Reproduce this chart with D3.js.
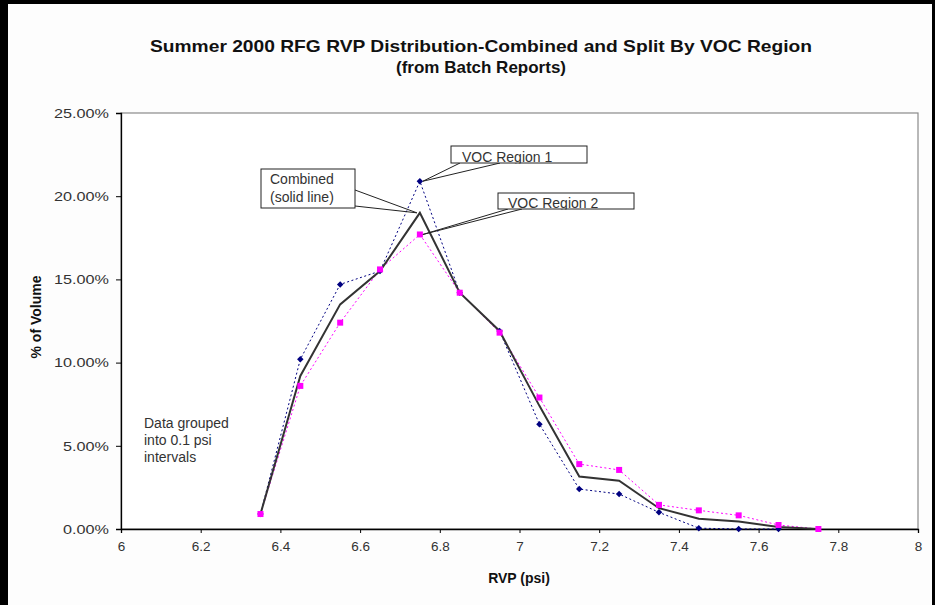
<!DOCTYPE html>
<html><head><meta charset="utf-8">
<script src="https://cdn.jsdelivr.net/npm/d3@7"></script>
<style>
html,body{margin:0;padding:0;background:#fdfdfd;}
text{font-family:"Liberation Sans",Arial,sans-serif;}
</style></head>
<body>
<svg id="c" width="935" height="605"></svg>
<script>
const rvp = [6.35,6.45,6.55,6.65,6.75,6.85,6.95,7.05,7.15,7.25,7.35,7.45,7.55,7.65,7.75];
const region1 = [0.009,0.102,0.147,0.155,0.209,0.142,0.119,0.063,0.024,0.021,0.010,0.0005,0.0,0.0,null];
const region2 = [0.009,0.086,0.124,0.156,0.177,0.142,0.118,0.079,0.039,0.0355,0.0145,0.0112,0.0082,0.0024,0.0];
const combined = [0.009,0.092,0.135,0.155,0.190,0.142,0.119,0.074,0.0315,0.029,0.0125,0.0062,0.0045,0.0012,0.0];
const xTicks = [6,6.2,6.4,6.6,6.8,7,7.2,7.4,7.6,7.8,8];
const yTicks = [0,0.05,0.10,0.15,0.20,0.25];
const titleLines = ["Summer 2000 RFG RVP Distribution-Combined and Split By VOC Region","(from Batch Reports)"];

const svg = d3.select("#c");
const W=935,H=605;
svg.append("rect").attr("x",0).attr("y",0).attr("width",W).attr("height",H).attr("fill","#fdfdfd");
// outer border
svg.append("rect").attr("x",0).attr("y",0).attr("width",8).attr("height",H).attr("fill","#000");
svg.append("rect").attr("x",0).attr("y",0).attr("width",W).attr("height",4).attr("fill","#000");
svg.append("rect").attr("x",932).attr("y",0).attr("width",3).attr("height",H).attr("fill","#000");

const L=121,R=918,T=113,B=529;
const x = d3.scaleLinear().domain([6,8]).range([L,R]);
const y = d3.scaleLinear().domain([0,0.25]).range([B,T]);

svg.append("rect").attr("x",L).attr("y",T).attr("width",R-L).attr("height",B-T)
  .attr("fill","#ffffff").attr("stroke","#8a8a8a").attr("stroke-width",1.2);

// title
const titleW = [662,170];
titleLines.forEach((t,i)=>{
  svg.append("text").attr("x",481).attr("y",52+i*21).attr("text-anchor","middle")
    .attr("font-size",16.5).attr("font-weight","bold").attr("fill","#111")
    .attr("textLength",titleW[i]).attr("lengthAdjust","spacingAndGlyphs").text(t);
});

// axes
const xAxis = d3.axisBottom(x).tickValues(xTicks).tickSize(4).tickFormat(d3.format("~g"));
const gx = svg.append("g").attr("transform",`translate(0,${B})`).call(xAxis);
gx.select(".domain").attr("stroke","#000").attr("stroke-width",1.3);
gx.selectAll(".tick line").attr("stroke","#000");
gx.selectAll(".tick text").attr("font-size",13.5).attr("fill","#333").attr("dy","1.1em")
  .style("font-family","'Liberation Sans',Arial,sans-serif");

const yAxis = d3.axisLeft(y).tickValues(yTicks).tickSize(5).tickFormat(d3.format(".2%"));
const gy = svg.append("g").attr("transform",`translate(${L},0)`).call(yAxis);
gy.select(".domain").attr("stroke","#000").attr("stroke-width",1.3);
gy.selectAll(".tick line").attr("stroke","#000");
gy.selectAll(".tick text").attr("font-size",13.5).attr("fill","#333").attr("x",-12)
  .style("font-family","'Liberation Sans',Arial,sans-serif")
  .each(function(){const l=this.getComputedTextLength(); d3.select(this).attr("textLength",l*1.2).attr("lengthAdjust","spacingAndGlyphs");});

svg.append("text").attr("x",519).attr("y",583).attr("text-anchor","middle")
  .attr("font-size",14).attr("font-weight","bold").attr("fill","#111").text("RVP (psi)");
svg.append("text").attr("transform","translate(41,317) rotate(-90)").attr("text-anchor","middle")
  .attr("font-size",14).attr("font-weight","bold").attr("fill","#111").text("% of Volume");

// series
const mk = (arr)=>rvp.map((v,i)=>({x:v,y:arr[i]})).filter(d=>d.y!==null);
const line = d3.line().x(d=>x(d.x)).y(d=>y(d.y));
const s1 = mk(region1), s2 = mk(region2), s3 = mk(combined);

svg.append("path").datum(s1).attr("d",line).attr("fill","none").attr("stroke","#000080")
  .attr("stroke-width",1).attr("stroke-dasharray","2,2.5");
svg.append("path").datum(s2).attr("d",line).attr("fill","none").attr("stroke","#ff00ff")
  .attr("stroke-width",1).attr("stroke-dasharray","2,2.5");
svg.append("path").datum(s3).attr("d",line).attr("fill","none").attr("stroke","#333")
  .attr("stroke-width",2);

svg.selectAll(".d1").data(s1).join("rect").attr("class","d1")
  .attr("x",-2.3).attr("y",-2.3).attr("width",4.6).attr("height",4.6)
  .attr("transform",d=>`translate(${x(d.x)},${y(d.y)}) rotate(45)`)
  .attr("fill","#000080");
svg.selectAll(".d2").data(s2).join("rect").attr("class","d2")
  .attr("x",d=>x(d.x)-3).attr("y",d=>y(d.y)-3).attr("width",6).attr("height",6)
  .attr("fill","#ff00ff");

// annotations
function callout(bx,by,bw,bh,lines,tx,ty,p1,p2,target){
  const g = svg.append("g");
  g.append("line").attr("x1",p1[0]).attr("y1",p1[1]).attr("x2",target[0]).attr("y2",target[1]).attr("stroke","#222").attr("stroke-width",1);
  g.append("line").attr("x1",p2[0]).attr("y1",p2[1]).attr("x2",target[0]).attr("y2",target[1]).attr("stroke","#222").attr("stroke-width",1);
  g.append("rect").attr("x",bx).attr("y",by).attr("width",bw).attr("height",bh).attr("fill","#fff").attr("stroke","#222").attr("stroke-width",1);
  const id = "clip"+Math.round(bx);
  g.append("clipPath").attr("id",id).append("rect").attr("x",bx).attr("y",by).attr("width",bw).attr("height",bh+0.5);
  const tg = g.append("g").attr("clip-path",`url(#${id})`);
  lines.forEach((t,i)=>tg.append("text").attr("x",tx).attr("y",ty+i*18).attr("font-size",14).attr("fill","#333").text(t));
}
const i75 = rvp.indexOf(6.75);
callout(451,146,136,17,["VOC Region 1"],462,162,[460,163],[500,163],[x(6.75)+3,y(region1[i75])]);
callout(261,169,94,39,["Combined","(solid line)"],270,184,[355,190],[355,206],[x(6.75)-3,y(combined[i75])]);
callout(498,193,136,16,["VOC Region 2"],508,208,[508,209],[522,209],[x(6.75)+3,y(region2[i75])]);

["Data grouped","into 0.1 psi","intervals"].forEach((t,i)=>
  svg.append("text").attr("x",144).attr("y",428+i*17).attr("font-size",14).attr("fill","#333").text(t));
</script>
</body></html>
